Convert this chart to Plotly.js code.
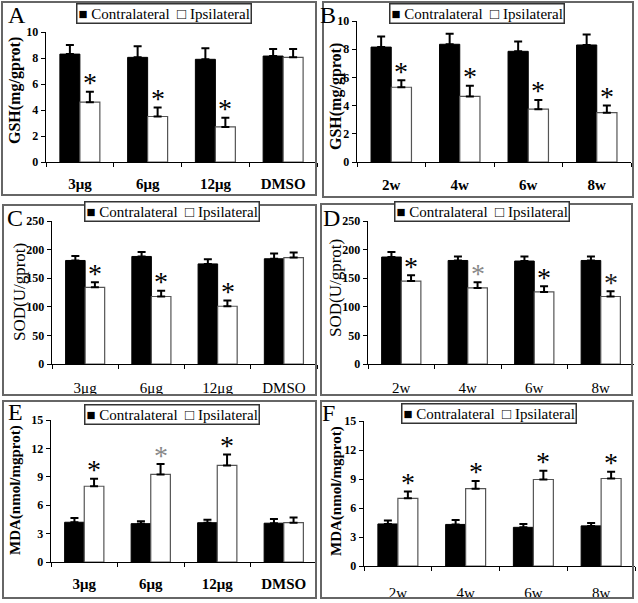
<!DOCTYPE html>
<html>
<head>
<meta charset="utf-8">
<script src="https://cdn.plot.ly/plotly-3.0.1.min.js"></script>
<style>
  body { margin: 0; background: #fff; }
  #chart { width: 638px; height: 603px; }
</style>
</head>
<body>
<div id="chart"></div>
<script>
// categories
var doseCats = ['3\u03bcg', '6\u03bcg', '12\u03bcg', 'DMSO'];
var weekCats = ['2w', '4w', '6w', '8w'];

// A: GSH by dose
var gshDoseContra = [8.3, 8.05, 7.9, 8.15];
var gshDoseContraErr = [0.7, 0.85, 0.85, 0.55];
var gshDoseIpsi = [4.6, 3.5, 2.7, 8.05];
var gshDoseIpsiErr = [0.8, 0.7, 0.7, 0.65];

// B: GSH by week
var gshWeekContra = [8.15, 8.35, 7.85, 8.3];
var gshWeekContraErr = [0.75, 0.75, 0.7, 0.75];
var gshWeekIpsi = [5.3, 4.65, 3.75, 3.5];
var gshWeekIpsiErr = [0.5, 0.75, 0.65, 0.5];

// C: SOD by dose
var sodDoseContra = [181, 188, 175, 184];
var sodDoseContraErr = [8, 8, 8, 9];
var sodDoseIpsi = [134, 118, 101, 186];
var sodDoseIpsiErr = [9, 10, 10, 9];

// D: SOD by week
var sodWeekContra = [187, 181, 180, 181];
var sodWeekContraErr = [9, 7, 8, 7];
var sodWeekIpsi = [145, 133, 126, 118];
var sodWeekIpsiErr = [10, 10, 10, 9];

// E: MDA by dose
var mdaDoseContra = [4.2, 4.05, 4.15, 4.1];
var mdaDoseContraErr = [0.45, 0.25, 0.3, 0.45];
var mdaDoseIpsi = [8.0, 9.25, 10.2, 4.15];
var mdaDoseIpsiErr = [0.8, 1.1, 1.15, 0.55];

// F: MDA by week
var mdaWeekContra = [4.35, 4.3, 4.0, 4.15];
var mdaWeekContraErr = [0.35, 0.45, 0.35, 0.3];
var mdaWeekIpsi = [7.0, 8.0, 8.95, 9.05];
var mdaWeekIpsiErr = [0.7, 0.8, 0.9, 0.7];

// significance marks (ipsilateral vs contralateral)
var sigDose = [true, true, true, false];
var sigWeek = [true, true, true, true];

var W = 638, H = 603;
function px(x) { return x / W; }
function py(y) { return 1 - y / H; }

var SERIF = 'Liberation Serif, Times New Roman, serif';

// layout of the six panels (pixel boxes), plus text styling
var panels = [
  {letter: 'A', cats: doseCats, c: gshDoseContra, ce: gshDoseContraErr, i: gshDoseIpsi, ie: gshDoseIpsiErr,
   sig: sigDose, starCol: ['#000', '#000', '#000'], ymax: 10, dtick: 2, title: 'GSH(mg/gprot)', titleBold: true, titleSize: 16,
   catBold: true, standoff: 8, plot: [46, 317, 32, 162], box: [2, 316, 2, 195], legend: [164, 13.5], letterPos: [17, 15], titlePos: [15, 91]},
  {letter: 'B', cats: weekCats, c: gshWeekContra, ce: gshWeekContraErr, i: gshWeekIpsi, ie: gshWeekIpsiErr,
   sig: sigWeek, starCol: ['#000', '#000', '#000', '#000'], ymax: 10, dtick: 2, title: 'GSH(mg/gprot)', titleBold: true, titleSize: 16,
   catBold: true, standoff: 9, plot: [357, 631, 21, 162], box: [323, 633, 2, 197], legend: [477, 13], letterPos: [328, 15], titlePos: [336, 97]},
  {letter: 'C', cats: doseCats, c: sodDoseContra, ce: sodDoseContraErr, i: sodDoseIpsi, ie: sodDoseIpsiErr,
   sig: sigDose, starCol: ['#000', '#000', '#000'], ymax: 250, dtick: 50, title: 'SOD(U/gprot)', titleBold: false, titleSize: 17,
   catBold: false, standoff: 10, plot: [52, 317, 221, 364], box: [3, 316, 205, 395], legend: [171.5, 211.5], letterPos: [15, 218], titlePos: [19, 292]},
  {letter: 'D', cats: weekCats, c: sodWeekContra, ce: sodWeekContraErr, i: sodWeekIpsi, ie: sodWeekIpsiErr,
   sig: sigWeek, starCol: ['#000', '#888', '#000', '#222'], ymax: 250, dtick: 50, title: 'SOD(U/gprot)', titleBold: false, titleSize: 17,
   catBold: false, standoff: 10, plot: [368, 634, 221, 364], box: [321, 632, 204, 395], legend: [482, 211.5], letterPos: [331, 218], titlePos: [335, 288]},
  {letter: 'E', cats: doseCats, c: mdaDoseContra, ce: mdaDoseContraErr, i: mdaDoseIpsi, ie: mdaDoseIpsiErr,
   sig: sigDose, starCol: ['#000', '#888', '#000'], ymax: 15, dtick: 3, title: 'MDA(nmol/mgprot)', titleBold: true, titleSize: 15,
   catBold: true, standoff: 8, plot: [51, 317, 420, 562], box: [3, 316, 401, 598], legend: [171.5, 414], letterPos: [15, 412], titlePos: [15, 490]},
  {letter: 'F', cats: weekCats, c: mdaWeekContra, ce: mdaWeekContraErr, i: mdaWeekIpsi, ie: mdaWeekIpsiErr,
   sig: sigWeek, starCol: ['#000', '#000', '#000', '#000'], ymax: 15, dtick: 3, title: 'MDA(nmol/mgprot)', titleBold: true, titleSize: 15,
   catBold: false, standoff: 13, plot: [364, 635, 421, 566], box: [321, 633, 401, 598], legend: [488.5, 413], letterPos: [328, 413], titlePos: [336, 491]}
];

var data = [];
var layout = {
  width: W, height: H,
  margin: {l: 0, r: 0, t: 0, b: 0},
  paper_bgcolor: '#fff', plot_bgcolor: 'rgba(0,0,0,0)',
  barmode: 'group', bargap: 0.41, bargroupgap: 0,
  showlegend: false,
  font: {family: SERIF, color: '#000'},
  annotations: [], shapes: []
};

panels.forEach(function(p, k) {
  var n = k === 0 ? '' : String(k + 1);
  var xa = 'x' + n, ya = 'y' + n;
  var zeros = p.cats.map(function() { return 0; });

  data.push({
    type: 'bar', name: 'Contralateral', x: p.cats, y: p.c, xaxis: xa, yaxis: ya,
    marker: {color: '#000', line: {color: '#000', width: 1}},
    error_y: {type: 'data', symmetric: false, array: p.ce, arrayminus: zeros, color: '#000', thickness: 2, width: 4}
  });
  data.push({
    type: 'bar', name: 'Ipsilateral', x: p.cats, y: p.i, xaxis: xa, yaxis: ya,
    marker: {color: '#fff', line: {color: '#555', width: 1.2}},
    error_y: {type: 'data', symmetric: false, array: p.ie, arrayminus: zeros, color: '#000', thickness: 2, width: 4}
  });

  layout['xaxis' + n] = {
    domain: [px(p.plot[0]), px(p.plot[1])], anchor: ya,
    type: 'category', range: [-0.5, 3.5],
    showline: true, linecolor: '#000', linewidth: 1.3,
    ticks: 'outside', tickson: 'boundaries', ticklen: 4, tickcolor: '#000',
    ticklabelstandoff: p.standoff,
    tickfont: {family: SERIF, size: 15, color: '#000', weight: p.catBold ? 'bold' : 'normal'},
    showgrid: false, zeroline: false, fixedrange: true
  };
  layout['yaxis' + n] = {
    domain: [py(p.plot[3]), py(p.plot[2])], anchor: xa,
    range: [0, p.ymax], dtick: p.dtick,
    showline: true, linecolor: '#000', linewidth: 1.3,
    ticks: 'outside', ticklen: 4, tickcolor: '#000',
    tickfont: {family: SERIF, size: 12, color: '#000', weight: 'bold'},
    showgrid: false, zeroline: false, fixedrange: true
  };

  // panel frame
  layout.shapes.push({type: 'rect', xref: 'paper', yref: 'paper',
    x0: px(p.box[0]), x1: px(p.box[1]), y0: py(p.box[3]), y1: py(p.box[2]),
    line: {color: '#666', width: 2}});

  // asterisks above ipsilateral bars
  var s = 0;
  p.cats.forEach(function(cat, j) {
    if (!p.sig[j]) return;
    layout.annotations.push({xref: xa, yref: ya, x: cat, y: p.i[j] + p.ie[j],
      xshift: 10, yshift: 9, yanchor: 'middle', showarrow: false, text: '*',
      font: {family: SERIF, size: 28, color: p.starCol[s++]}});
  });

  // panel letter
  layout.annotations.push({xref: 'paper', yref: 'paper', x: px(p.letterPos[0]), y: py(p.letterPos[1]),
    xanchor: 'center', yanchor: 'middle', showarrow: false, text: p.letter,
    font: {family: SERIF, size: 24, color: '#000'}});

  // y axis title
  layout.annotations.push({xref: 'paper', yref: 'paper', x: px(p.titlePos[0]), y: py(p.titlePos[1]),
    xanchor: 'center', yanchor: 'middle', showarrow: false, textangle: -90, text: p.title,
    font: {family: SERIF, size: p.titleSize, color: '#000', weight: p.titleBold ? 'bold' : 'normal'}});

  // legend key
  layout.annotations.push({xref: 'paper', yref: 'paper', x: px(p.legend[0]), y: py(p.legend[1]),
    xanchor: 'center', yanchor: 'middle', showarrow: false,
    text: '\u25a0 Contralateral  \u25a1 Ipsilateral',
    bgcolor: '#fff', bordercolor: '#333', borderwidth: 1.5, borderpad: 1,
    font: {family: SERIF, size: 15, color: '#000'}});
});

Plotly.newPlot('chart', data, layout, {displayModeBar: false, staticPlot: true});
</script>
</body>
</html>
